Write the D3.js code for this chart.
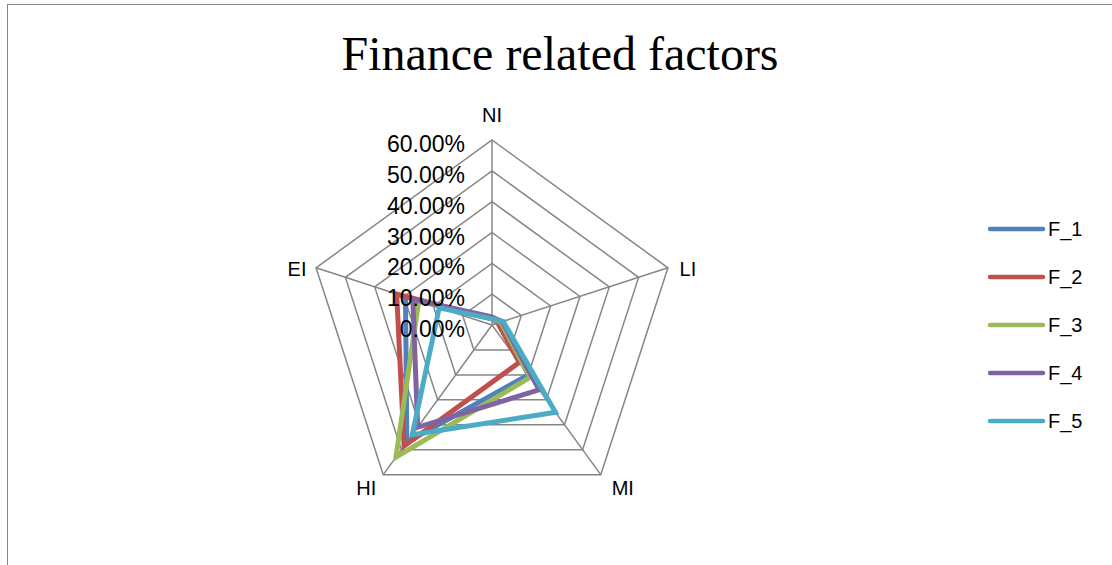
<!DOCTYPE html>
<html>
<head>
<meta charset="utf-8">
<script src="https://cdn.jsdelivr.net/npm/d3@7"></script>
<style>
  body { margin: 0; background: #fff; }
  svg text { font-family: "Liberation Sans", Arial, sans-serif; fill: #000; }
</style>
</head>
<body>
<svg width="1112" height="565"></svg>
<script>
"use strict";

var axes = ["NI", "LI", "MI", "HI", "EI"];
var tickValues = [0, 10, 20, 30, 40, 50, 60];
var seriesNames = ["F_1", "F_2", "F_3", "F_4", "F_5"];
var f1 = [2.0, 3.5, 20, 47, 29.5];
var f2 = [2.0, 2.0, 15, 48.5, 32.5];
var f3 = [2.0, 3.0, 21, 53, 25];
var f4 = [2.6, 3.5, 26, 41, 27];
var f5 = [2.0, 3.8, 35, 44, 18];
var seriesValues = [f1, f2, f3, f4, f5];
var colors = ["#4F81BD", "#C0504D", "#9BBB59", "#8064A2", "#4BACC6"];

var svg = d3.select("svg");
var cx = 492, cy = 325, R = 185;

// chart border
svg.append("rect")
    .attr("x", 7.5).attr("y", 4.5)
    .attr("width", 1115).attr("height", 600)
    .attr("fill", "none")
    .attr("stroke", "#868686")
    .attr("stroke-width", 1);

svg.append("text")
    .attr("x", 560).attr("y", 70)
    .attr("text-anchor", "middle")
    .style("font-family", "'Liberation Serif', 'Times New Roman', serif")
    .style("font-size", "48px")
    .text("Finance related factors");

var r = d3.scaleLinear().domain([0, 60]).range([0, R]);
var angle = d3.scalePoint().domain(axes).range([0, 2 * Math.PI * 4 / 5]);

function pt(a, v) {
    var t = angle(a);
    return [cx + r(v) * Math.sin(t), cy - r(v) * Math.cos(t)];
}

var g = svg.append("g");

// rings
g.selectAll("polygon.ring")
    .data(tickValues.slice(1))
    .enter()
    .append("polygon")
    .attr("points", function (v) {
        return axes.map(function (a) { return pt(a, v).join(","); }).join(" ");
    })
    .attr("fill", "none")
    .attr("stroke", "#868686")
    .attr("stroke-width", 1.5);

// spokes
g.selectAll("line.spoke")
    .data(axes)
    .enter()
    .append("line")
    .attr("x1", cx).attr("y1", cy)
    .attr("x2", function (a) { return pt(a, 60)[0]; })
    .attr("y2", function (a) { return pt(a, 60)[1]; })
    .attr("stroke", "#868686")
    .attr("stroke-width", 1.5);

// series
var line = d3.lineRadial()
    .angle(function (d, i) { return angle(axes[i]); })
    .radius(function (d) { return r(d); })
    .curve(d3.curveLinearClosed);

g.append("g")
    .attr("transform", "translate(" + cx + "," + cy + ")")
    .selectAll("path.series")
    .data(seriesValues)
    .enter()
    .append("path")
    .attr("d", line)
    .attr("fill", "none")
    .attr("stroke", function (d, i) { return colors[i]; })
    .attr("stroke-width", 5)
    .attr("stroke-linejoin", "miter");

// tick labels
g.selectAll("text.tick")
    .data(tickValues)
    .enter()
    .append("text")
    .attr("x", cx - 27)
    .attr("y", function (v) { return cy - r(v) + 12; })
    .attr("text-anchor", "end")
    .style("font-size", "23px")
    .text(function (v) { return d3.format(".2f")(v) + "%"; });

// axis labels
var labelOffset = { NI: [0, -18], LI: [20, 8], MI: [22, 20], HI: [-17, 20], EI: [-19, 8] };
g.selectAll("text.axis")
    .data(axes)
    .enter()
    .append("text")
    .attr("x", function (a) { return pt(a, 60)[0] + labelOffset[a][0]; })
    .attr("y", function (a) { return pt(a, 60)[1] + labelOffset[a][1]; })
    .attr("text-anchor", "middle")
    .style("font-size", "20px")
    .text(function (a) { return a; });

// legend
var legend = svg.append("g")
    .selectAll("g")
    .data(seriesNames)
    .enter()
    .append("g")
    .attr("transform", function (d, i) { return "translate(990," + (229 + i * 48) + ")"; });

legend.append("line")
    .attr("x1", 0).attr("x2", 53)
    .attr("stroke", function (d, i) { return colors[i]; })
    .attr("stroke-width", 4.5)
    .attr("stroke-linecap", "round");

legend.append("text")
    .attr("x", 58).attr("y", 7)
    .style("font-size", "20px")
    .text(function (d) { return d; });
</script>
</body>
</html>
